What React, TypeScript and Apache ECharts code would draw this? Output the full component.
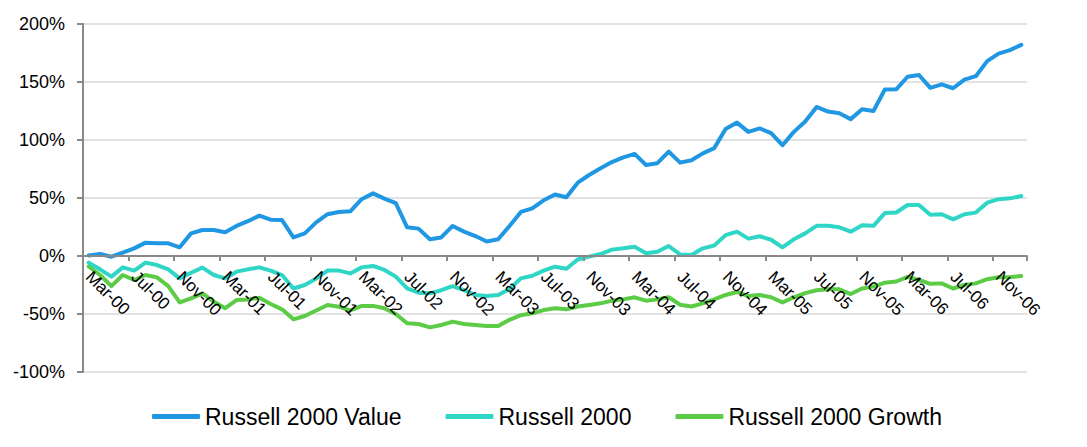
import React, { useEffect, useRef } from "react";
import * as echarts from "echarts";

const categories: string[] = [
  "Mar-00", "Apr-00", "May-00", "Jun-00", "Jul-00", "Aug-00", "Sep-00", "Oct-00", "Nov-00", "Dec-00",
  "Jan-01", "Feb-01", "Mar-01", "Apr-01", "May-01", "Jun-01", "Jul-01", "Aug-01", "Sep-01", "Oct-01", "Nov-01", "Dec-01",
  "Jan-02", "Feb-02", "Mar-02", "Apr-02", "May-02", "Jun-02", "Jul-02", "Aug-02", "Sep-02", "Oct-02", "Nov-02", "Dec-02",
  "Jan-03", "Feb-03", "Mar-03", "Apr-03", "May-03", "Jun-03", "Jul-03", "Aug-03", "Sep-03", "Oct-03", "Nov-03", "Dec-03",
  "Jan-04", "Feb-04", "Mar-04", "Apr-04", "May-04", "Jun-04", "Jul-04", "Aug-04", "Sep-04", "Oct-04", "Nov-04", "Dec-04",
  "Jan-05", "Feb-05", "Mar-05", "Apr-05", "May-05", "Jun-05", "Jul-05", "Aug-05", "Sep-05", "Oct-05", "Nov-05", "Dec-05",
  "Jan-06", "Feb-06", "Mar-06", "Apr-06", "May-06", "Jun-06", "Jul-06", "Aug-06", "Sep-06", "Oct-06", "Nov-06", "Dec-06",
  "Jan-07",
];

const valueSeries: number[] = [
  0.5, 1.7, -0.6, 3, 6.6, 11.5, 10.9, 10.9, 7.5, 19.5,
  22.4, 22.4, 20.5, 25.9, 30, 34.8, 31.3, 31, 16, 19.5,
  29, 36, 38, 38.5, 49, 54, 49.5, 45.5, 24.7, 23.6,
  14.4, 16, 25.9, 21, 17.2, 12.5, 14.4, 25.9, 38, 41,
  48, 53, 50.6, 63.2, 69.8, 75.6, 81, 85, 88, 78.5,
  80, 90, 80.5, 82.5, 88.5, 93, 109.5, 115, 107, 110,
  106, 95.5, 107, 116, 128.5, 124.5, 123, 118, 126.5, 125,
  143.5, 143.7, 154.5, 156, 145, 148, 144.6, 152, 155, 168,
  174.5, 177.5, 182,
];

const r2000Series: number[] = [
  -5.7, -11.5, -17.8, -9.8, -12.6, -5.7, -7.8, -11.5, -19.3, -14.4,
  -10, -16.4, -19.3, -13.5, -11.5, -9.8, -12.6, -16.4, -28, -25,
  -19.5, -12.6, -12.6, -15, -9.8, -8.6, -12, -17.8, -28, -31.6,
  -32.2, -29.5, -26, -29.5, -33.6, -34.5, -33.6, -28.5, -19.3, -17,
  -12.6, -9.2, -11, -3, -0.5, 1.7, 5.5, 6.6, 8, 2.3,
  3.7, 8.6, 1.4, 0.9, 6.6, 9, 18, 21, 15, 17,
  14, 7.5, 14.4, 19.5, 26, 26, 24.7, 21, 26.5, 26,
  37, 37.5, 44, 44, 35.5, 36, 31.6, 36, 37.4, 46,
  49, 49.7, 51.7,
];

const growthSeries: number[] = [
  -9, -16.4, -26, -16.4, -20.7, -16.4, -18.4, -26, -40, -36.5,
  -32.2, -39.4, -45, -38, -37.4, -36, -41.4, -46, -54.6, -51.7,
  -47, -42.2, -43.7, -47, -43, -43, -45, -50, -58, -58.6,
  -61.5, -59.5, -56.6, -58.6, -59.5, -60.4, -60.4, -55, -51, -49.4,
  -46.6, -45, -46, -43.5, -42.2, -40.8, -38.5, -37.4, -35.6, -38.5,
  -37.4, -35.6, -42, -43.5, -40.8, -37.4, -33.6, -31, -34.5, -33.6,
  -35.6, -40, -35.6, -32, -29.5, -28.7, -28.7, -32.8, -28, -26.4,
  -23, -22, -18, -20.7, -24, -23.6, -28, -25, -23.6, -20,
  -18.4, -18.4, -17.2,
];

const seriesNames: string[] = ["Russell 2000 Value", "Russell 2000", "Russell 2000 Growth"];
const seriesColors: string[] = ["#1f97e3", "#2fd6c6", "#5ccb46"];

const FONT = "'Liberation Sans', Arial, sans-serif";

export default function App() {
  const ref = useRef<HTMLDivElement>(null);

  useEffect(() => {
    if (!ref.current) return;
    const chart = echarts.init(ref.current, undefined, { renderer: "svg" });
    const data = [valueSeries, r2000Series, growthSeries];
    chart.setOption({
      animation: false,
      backgroundColor: "#ffffff",
      grid: { left: 83, right: 60, top: 24, bottom: 75, containLabel: false },
      legend: {
        data: seriesNames,
        top: 400,
        left: 147,
        itemWidth: 48,
        itemHeight: 5,
        itemGap: 44,
        icon: "roundRect",
        textStyle: { fontFamily: FONT, fontSize: 23, color: "#000" },
      },
      xAxis: {
        type: "category",
        data: categories,
        boundaryGap: true,
        offset: -116,
        z: 10,
        axisLine: { show: true, onZero: false, lineStyle: { color: "#898989", width: 2 } },
        axisTick: { show: true, interval: 3, length: 5, inside: false, lineStyle: { color: "#898989", width: 2 } },
        axisLabel: {
          interval: 3,
          rotate: -45,
          margin: 18,
          fontFamily: FONT,
          fontSize: 17,
          color: "#000",
        },
        splitLine: { show: false },
      },
      yAxis: {
        type: "value",
        min: -100,
        max: 200,
        interval: 50,
        axisLine: { show: true, onZero: false, lineStyle: { color: "#898989", width: 2 } },
        axisTick: { show: true, length: 6, lineStyle: { color: "#898989", width: 2 } },
        axisLabel: {
          formatter: "{value}%",
          margin: 18,
          fontFamily: FONT,
          fontSize: 18,
          color: "#000",
        },
        splitLine: { show: true, lineStyle: { color: "#d9d9d9", width: 1.5 } },
      },
      series: seriesNames.map((name, i) => ({
        name,
        type: "line",
        data: data[i],
        symbol: "none",
        showSymbol: false,
        lineStyle: { width: 4, color: seriesColors[i], cap: "round", join: "round" },
        itemStyle: { color: seriesColors[i] },
        z: 3 - i,
      })),
    });
    return () => chart.dispose();
  }, []);

  return (
    <div
      ref={ref}
      style={{ position: "fixed", left: 0, top: 0, width: 1087, height: 447, background: "#fff" }}
    />
  );
}
